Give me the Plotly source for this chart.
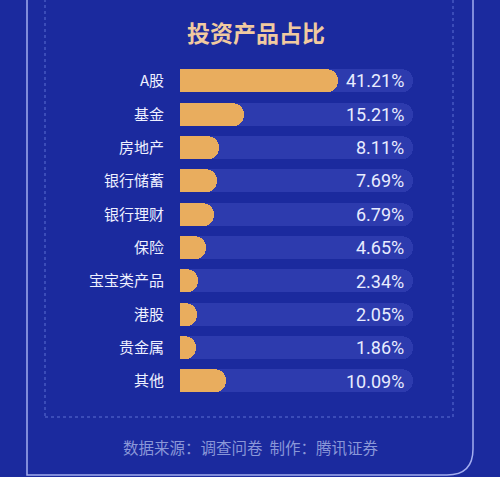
import plotly.graph_objects as go

# data
categories = ['A股', '基金', '房地产', '银行储蓄', '银行理财', '保险', '宝宝类产品', '港股', '贵金属', '其他']
shares = [41.21, 15.21, 8.11, 7.69, 6.79, 4.65, 2.34, 2.05, 1.86, 10.09]
value_labels = ['41.21%', '15.21%', '8.11%', '7.69%', '6.79%', '4.65%', '2.34%', '2.05%', '1.86%', '10.09%']

W, H = 500, 477
CAP = 2.6        # bars get a small extra length for the rounded cap
TRACK_END = 64.6

def px(x):
    return x / W

def py(y):
    return 1 - y / H

fig = go.Figure()

# background track (own axes so the rounding isn't lost in overlay)
fig.add_trace(go.Bar(
    y=categories, x=[TRACK_END] * len(categories),
    orientation='h', width=0.69,
    marker=dict(color='#2d3bae', cornerradius='50%', line=dict(width=0)),
    hoverinfo='skip', showlegend=False,
))

# values, drawn on top via overlaying axes
fig.add_trace(go.Bar(
    y=categories, x=[v + CAP for v in shares],
    orientation='h', width=0.69, xaxis='x2', yaxis='y2',
    marker=dict(color='#e9ad5e', cornerradius='50%', line=dict(width=0)),
    hovertext=value_labels, hoverinfo='text+y', showlegend=False,
))

for cat, lab in zip(categories, value_labels):
    fig.add_annotation(
        x=TRACK_END, y=cat, xref='x', yref='y', text=lab,
        xanchor='right', yanchor='middle', xshift=-7, showarrow=False,
        font=dict(family='Roboto, Noto Sans CJK SC', size=18, color='#e8ecff'),
    )

# title and footer
fig.add_annotation(
    x=px(256), y=py(32), xref='paper', yref='paper', text='<b>投资产品占比</b>',
    showarrow=False, xanchor='center', yanchor='middle',
    font=dict(family='Noto Sans CJK SC', size=23, color='#f1caa0'),
)
fig.add_annotation(
    x=px(250), y=py(447), xref='paper', yref='paper', text='数据来源：调查问卷  制作：腾讯证券',
    showarrow=False, xanchor='center', yanchor='middle',
    font=dict(family='Noto Sans CJK SC', size=15.5, color='#8a97d8'),
)

# card outline with rounded bottom-right corner
r = 26
outline = (f'M {px(27)},{py(-5)} L {px(27)},{py(475)} L {px(473 - r)},{py(475)} '
           f'Q {px(473)},{py(475)} {px(473)},{py(475 - r)} L {px(473)},{py(-5)}')
fig.add_shape(type='path', path=outline, xref='paper', yref='paper',
              line=dict(color='#a3adf0', width=1.5), layer='below')
# dotted inner frame
fig.add_shape(type='rect', x0=px(45), x1=px(453), y0=py(417), y1=py(-5),
              xref='paper', yref='paper',
              line=dict(color='#5d6fd2', width=1, dash='dot'), layer='below')

x_dom = [px(180), px(413)]
y_dom = [py(397.7), py(64.3)]

fig.update_layout(
    width=W, height=H,
    margin=dict(l=0, r=0, t=0, b=0),
    paper_bgcolor='#1b2a9e', plot_bgcolor='rgba(0,0,0,0)',
    barmode='overlay', bargap=0,
    xaxis=dict(domain=x_dom, range=[0, TRACK_END], visible=False, fixedrange=True),
    yaxis=dict(domain=y_dom, autorange='reversed',
               categoryorder='array', categoryarray=categories,
               showgrid=False, zeroline=False, showline=False, ticks='',
               ticklabelstandoff=15, fixedrange=True,
               tickfont=dict(family='Noto Sans CJK SC', size=15, color='#eef0ff')),
    xaxis2=dict(domain=x_dom, range=[0, TRACK_END], visible=False,
                overlaying='x', anchor='y2', fixedrange=True),
    yaxis2=dict(domain=y_dom, autorange='reversed',
                categoryorder='array', categoryarray=categories,
                visible=False, overlaying='y', anchor='x2', fixedrange=True),
    font=dict(family='Noto Sans CJK SC'),
)

# page body has a default 8px margin; drop it so the figure sits at 0,0
fig.write_html("out.html", config={'displayModeBar': False},
               post_script="document.body.style.margin='0';document.body.style.background='#1b2a9e';")
